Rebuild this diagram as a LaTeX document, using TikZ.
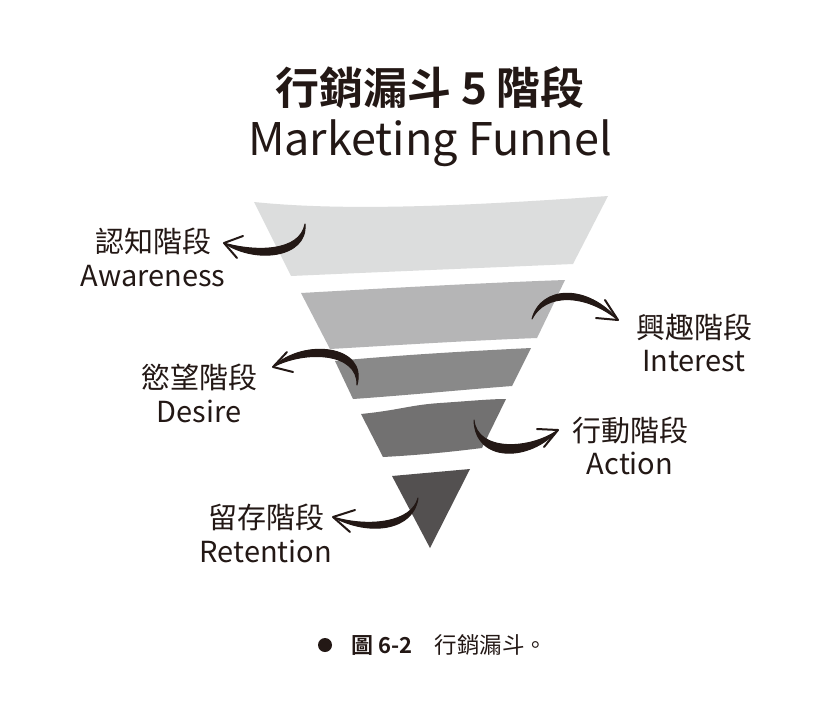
\documentclass[tikz,border=0pt]{standalone}
\usepackage{fontspec}
\setmainfont{Noto Sans CJK TC}[BoldFont={Noto Sans CJK TC Bold}]
\definecolor{ink}{HTML}{231815}
\definecolor{layA}{HTML}{DCDDDD}
\definecolor{layB}{HTML}{B5B5B6}
\definecolor{layC}{HTML}{898989}
\definecolor{layD}{HTML}{727171}
\definecolor{layE}{HTML}{535050}
\tikzset{
  lbl/.style={text=ink, font=\fontsize{29}{32}\selectfont, inner sep=0pt},
  arrbody/.style={fill=ink, draw=ink, line width=1pt, line join=round},
  barb/.style={draw=ink, line width=2pt, line cap=round, line join=round},
}
\begin{document}
\begin{tikzpicture}[x=1pt,y=-1pt]
\useasboundingbox (0,0) rectangle (833,710);
\fill[white] (0,0) rectangle (833,710);

% titles
\node[text=ink, font=\fontsize{44}{47}\selectfont\bfseries, inner sep=0pt] (t1) at (430,88) {行銷漏斗 5 階段};
\node[text=ink, font=\fontsize{45}{49}\selectfont, inner sep=0pt, anchor=base] (t2) at (430,155) {Marketing Funnel};

% funnel layers
\fill[layA] (254,202) .. controls (350,212) and (480,205) .. (608,196) -- (573,264) .. controls (480,268) and (380,272) .. (291,276) -- cycle;
\fill[layB] (301,293) .. controls (390,288) and (480,283) .. (565,280) -- (537,338) .. controls (460,341) and (400,345) .. (330,349) -- cycle;
\fill[layC] (335,361) .. controls (400,355) and (470,351) .. (531,348) -- (512,386) .. controls (460,390) and (410,395) .. (353,399) -- cycle;
\fill[layD] (361,414) .. controls (400,410) and (410,405) .. (440,403) .. controls (470,401) and (490,399) .. (506,399) -- (482,448) .. controls (450,452) and (420,455) .. (383,457) -- cycle;
\fill[layE] (392,476) -- (470,469) -- (430,548) -- cycle;

% coordinates for arrows
\coordinate (a1t) at (305,224); \coordinate (a1h) at (224,243);
\coordinate (a2t) at (532,319); \coordinate (a2h) at (618,320);
\coordinate (a3t) at (357,385); \coordinate (a3h) at (273,367);
\coordinate (a4t) at (474,420); \coordinate (a4h) at (558,430);
\coordinate (a5t) at (418,498); \coordinate (a5h) at (333,517);

% arrow 1 Awareness
\filldraw[arrbody] (a1t) .. controls (300,252) and (255,252) .. (a1h) .. controls (255,264) and (308,258) .. (a1t) -- cycle;
\draw[barb] (243,236) -- (a1h) -- (237,258);
% arrow 2 Interest
\filldraw[arrbody] (a2t) .. controls (545,293) and (585,293) .. (a2h) .. controls (588,284) and (541,285) .. (a2t) -- cycle;
\draw[barb] (605,300) -- (a2h) -- (596,318);
% arrow 3 Desire
\filldraw[arrbody] (a3t) .. controls (358,352) and (305,350) .. (a3h) .. controls (303,338) and (368,345) .. (a3t) -- cycle;
\draw[barb] (287,352) -- (a3h) -- (293,372);
% arrow 4 Action
\filldraw[arrbody] (a4t) .. controls (477,452) and (530,450) .. (a4h) .. controls (530,462) and (475,463) .. (a4t) -- cycle;
\draw[barb] (537,429) -- (a4h) -- (544,447);
% arrow 5 Retention
\filldraw[arrbody] (a5t) .. controls (412,522) and (370,528) .. (a5h) .. controls (370,537) and (414,530) .. (a5t) -- cycle;
\draw[barb] (355,510) -- (a5h) -- (350,532);

% labels
\node[lbl] (l1a) at (153,241) {認知階段};
\node[lbl] (l1b) at (153,276) {Awareness};
\node[lbl] (l2a) at (694,327) {興趣階段};
\node[lbl] (l2b) at (694,361) {Interest};
\node[lbl] (l3a) at (199,377) {慾望階段};
\node[lbl] (l3b) at (199,411) {Desire};
\node[lbl] (l4a) at (630,430) {行動階段};
\node[lbl] (l4b) at (630,463) {Action};
\node[lbl] (l5a) at (266,517) {留存階段};
\node[lbl] (l5b) at (266,551) {Retention};

% caption
\fill[ink] (325,645) circle (7);
\node[text=ink, font=\fontsize{22}{25}\selectfont\bfseries, inner sep=0pt] (c1) at (382,645) {圖 6-2};
\node[text=ink, font=\fontsize{22.5}{25}\selectfont, inner sep=0pt] (c2) at (491,645) {行銷漏斗。};
\end{tikzpicture}
\end{document}
